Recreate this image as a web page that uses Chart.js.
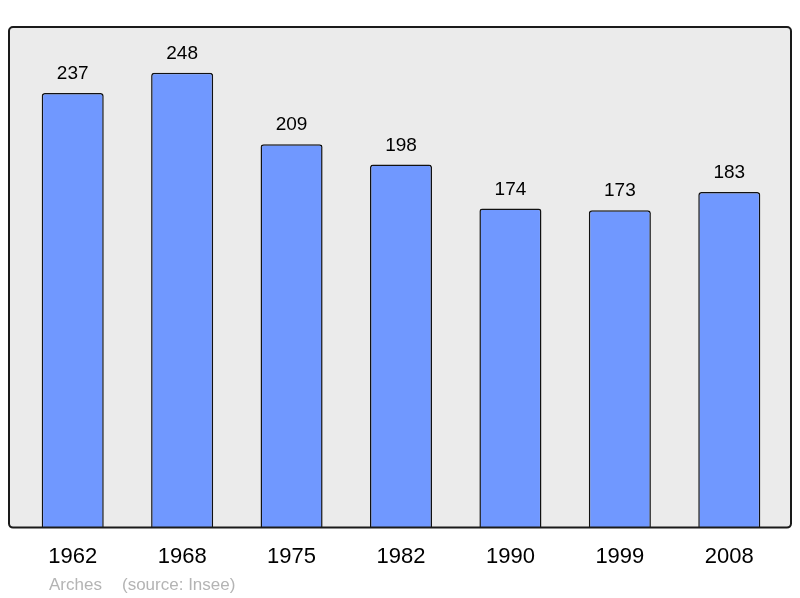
<!DOCTYPE html>
<html>
<head>
<meta charset="utf-8">
<script src="https://cdn.jsdelivr.net/npm/chart.js@4.4.0/dist/chart.umd.min.js"></script>
<style>
html,body{margin:0;padding:0;background:#fff;}
#wrap{width:800px;height:598px;}
</style>
</head>
<body>
<div id="wrap"><canvas id="c" width="800" height="598"></canvas></div>
<script>
const years = ["1962","1968","1975","1982","1990","1999","2008"];
const population = [237,248,209,198,174,173,183];
const commune = "Arches";
const sourceText = "(source: Insee)";

const boxPlugin = {
  id: 'box',
  beforeDraw(chart){
    const ctx = chart.ctx, a = chart.chartArea;
    const l = a.left - 9, r = a.right + 7, t = a.top, b = a.bottom;
    ctx.save();
    ctx.beginPath();
    ctx.roundRect(l, t, r - l, b - t, 4);
    ctx.fillStyle = '#ebebeb';
    ctx.fill();
    ctx.restore();
  },
  afterDatasetsDraw(chart){
    const ctx = chart.ctx, a = chart.chartArea;
    const l = a.left - 9, r = a.right + 7, t = a.top, b = a.bottom;
    ctx.save();
    ctx.beginPath();
    ctx.roundRect(l, t, r - l, b - t, 4);
    ctx.lineWidth = 2;
    ctx.strokeStyle = '#1a1a1a';
    ctx.stroke();
    // value labels
    const meta = chart.getDatasetMeta(0);
    ctx.fillStyle = '#000';
    ctx.font = '19px "Liberation Sans", Arial, sans-serif';
    ctx.textAlign = 'center';
    ctx.textBaseline = 'alphabetic';
    meta.data.forEach((bar, i) => {
      ctx.fillText(String(population[i]), bar.x, bar.y - 14);
    });
    // footer
    ctx.fillStyle = '#b4b4b4';
    ctx.font = '17px "Liberation Sans", Arial, sans-serif';
    ctx.textAlign = 'left';
    ctx.textBaseline = 'middle';
    ctx.fillText(commune, 49, 585);
    ctx.fillText(sourceText, 122, 585);
    ctx.restore();
  }
};

new Chart(document.getElementById('c'), {
  type: 'bar',
  data: {
    labels: years,
    datasets: [{
      data: population,
      backgroundColor: '#7098ff',
      borderColor: '#111',
      borderWidth: 1.5,
      borderRadius: 3,
      borderSkipped: 'bottom',
      barPercentage: 0.567,
      categoryPercentage: 1.0
    }]
  },
  options: {
    responsive: false,
    animation: false,
    layout: { padding: { left: 18, right: 16, top: 27, bottom: 12 } },
    plugins: { legend: { display: false }, tooltip: { enabled: false } },
    scales: {
      x: {
        grid: { display: false, drawTicks: false },
        border: { display: false },
        ticks: {
          color: '#000',
          font: { family: '"Liberation Sans", Arial, sans-serif', size: 22 },
          padding: 16,
          maxRotation: 0
        }
      },
      y: {
        display: false,
        min: 0,
        max: 273
      }
    }
  },
  plugins: [boxPlugin]
});
</script>
</body>
</html>
